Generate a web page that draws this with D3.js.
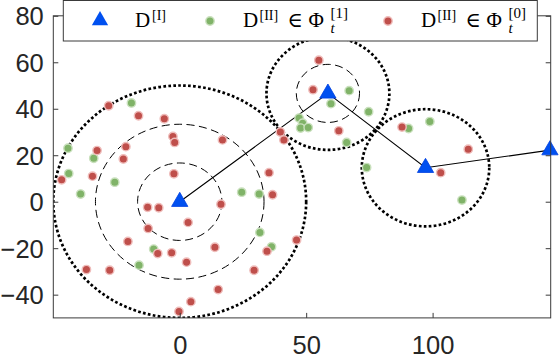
<!DOCTYPE html>
<html><head><meta charset="utf-8">
<script src="https://cdn.jsdelivr.net/npm/d3@7"></script>
<style>html,body{margin:0;padding:0;background:#fff;}svg{display:block;}</style>
</head><body><svg id="c" width="560" height="360"></svg>
<script>
// ---- data ----
const xTicks = [0, 50, 100];
const yTicks = [-40, -20, 0, 20, 40, 60, 80];
// D^[I] anchors (path)
const anchorX = [0, 58.6, 97.2, 146.4];
const anchorY = [0, 46.6, 14.6, 22.2];
// dotted coverage circles
const dotCx = [0, 58.6, 97.2];
const dotCy = [0, 46.6, 14.6];
const dotR  = [50, 24.3, 25.2];
// dashed inner circles
const dashCx = [0, 0, 58.6];
const dashCy = [0, 0, 46.6];
const dashR  = [16.67, 33.33, 12.5];
// D^[II] in Phi^[1] (green)
const greenX = [-19.1,-44.2,-34.0,-43.9,-25.7,-39.2,-10.3,-16.1,24.5,31.4,31.7,36.3,67.0,59.8,74.7,47.2,48.6,47.8,50.8,66.0,73.9,90.5,98.9,111.6];
const greenY = [42.5,23.0,18.7,12.1,8.4,3.3,-20.4,-27.3,4.1,3.3,-13.2,-19.4,47.8,42.2,38.7,36.0,33.8,31.7,31.9,25.5,14.7,31.5,34.5,0.7];
// D^[II] in Phi^[0] (red)
const redX = [-28.1,-16.3,-6.1,-2.7,-2.0,-32.7,-21.3,-22.3,-46.7,-34.5,-2.3,-12.7,-8.3,3.3,-12.5,-20.5,-8.7,-3.2,2.7,-36.9,-27.7,4.4,-0.3,16.3,13.9,15.2,29.4,34.5,46.2,36.7,35.3,16.9,39.8,41.2,55.0,52.7,62.9,87.9,114.1,103.2];
const redY = [41.3,37.0,35.7,28.1,25.5,22.0,23.7,18.4,9.4,11.0,12.0,-2.4,-2.6,-8.9,-11.5,-17.1,-22.3,-22.0,-26.0,-29.2,-29.5,-43.0,-47.2,-1.1,-19.6,-37.8,-29.5,-21.3,-16.5,3.0,12.5,26.6,30.0,26.6,60.9,48.2,30.5,32.1,22.6,12.5];

// ---- setup ----
const svg = d3.select('#c');
const L = 53.3, R = 550.7, T = 15.8, B = 317.9;
const x = d3.scaleLinear().domain([-50, 146.7]).range([L, R]);
const y = d3.scaleLinear().domain([-50, 80]).range([B, T]);
const axisCol = '#3a3a3a';
const sans = 'Liberation Sans, Arial, Helvetica, sans-serif';
const serif = 'Liberation Serif, DejaVu Serif, Times New Roman, serif';
const gFill = '#80b368', gEdge = '#c9e0bd', rFill = '#bf4f4b', rEdge = '#efbdbb';

svg.append('defs').append('clipPath').attr('id','clip')
  .append('rect').attr('x',L).attr('y',T).attr('width',R-L).attr('height',B-T);
const plot = svg.append('g').attr('clip-path','url(#clip)');

function ell(g, cx, cy, r) {
  return g.append('ellipse')
    .attr('cx', x(cx)).attr('cy', y(cy))
    .attr('rx', x(cx + r) - x(cx)).attr('ry', y(cy) - y(cy + r))
    .attr('fill','none').attr('stroke','#000');
}
dashR.forEach((r,i)=> ell(plot, dashCx[i], dashCy[i], r).attr('stroke-width',1).attr('stroke-dasharray','8,4.5'));
dotR.forEach((r,i)=> ell(plot, dotCx[i], dotCy[i], r).attr('stroke-width',2.7).attr('stroke-dasharray','2.7,2.3'));

// path
const pts = anchorX.map((v,i)=>[v, anchorY[i]]);
plot.append('path').attr('d', d3.line().x(d=>x(d[0])).y(d=>y(d[1]))(pts))
  .attr('fill','none').attr('stroke','#000').attr('stroke-width',1.1);

// dots
plot.append('g').selectAll('circle').data(greenX.map((v,i)=>[v, greenY[i]])).join('circle')
  .attr('cx', d=>x(d[0])).attr('cy', d=>y(d[1])).attr('r',4.2)
  .attr('fill',gFill).attr('stroke',gEdge).attr('stroke-width',1.4);
plot.append('g').selectAll('circle').data(redX.map((v,i)=>[v, redY[i]])).join('circle')
  .attr('cx', d=>x(d[0])).attr('cy', d=>y(d[1])).attr('r',4.2)
  .attr('fill',rFill).attr('stroke',rEdge).attr('stroke-width',1.4);

// triangles
const tri = d3.symbol().type(d3.symbolTriangle).size(115);
svg.append('g').selectAll('path').data(pts).join('path')
  .attr('d', tri).attr('transform', d=>`translate(${x(d[0])},${y(d[1])})`)
  .attr('fill','#0050f0').attr('stroke','#0040e0').attr('stroke-width',0.8);

// axes
const ax = svg.append('g').attr('font-family', sans);
const gl = ax.append('g').attr('transform',`translate(${L},0)`)
  .call(d3.axisLeft(y).tickValues(yTicks).tickSizeInner(-5).tickSizeOuter(0).tickPadding(9.5));
const gr = ax.append('g').attr('transform',`translate(${R},0)`)
  .call(d3.axisRight(y).tickValues(yTicks).tickSizeInner(-5).tickSizeOuter(0).tickFormat(''));
const gb = ax.append('g').attr('transform',`translate(0,${B})`)
  .call(d3.axisBottom(x).tickValues(xTicks).tickSizeInner(-5).tickSizeOuter(0).tickPadding(18.5));
const gt = ax.append('g').attr('transform',`translate(0,${T})`)
  .call(d3.axisTop(x).tickValues(xTicks).tickSizeInner(-5).tickSizeOuter(0).tickFormat(''));
[gl,gr,gb,gt].forEach(g=>{
  g.select('.domain').remove();
  g.selectAll('line').attr('stroke',axisCol).attr('stroke-width',1);
  g.selectAll('text').attr('fill','#262626').attr('font-size',25.5).attr('font-family',sans);
});
gl.selectAll('text').attr('dy','0.36em');
ax.append('rect').attr('x',L).attr('y',T).attr('width',R-L).attr('height',B-T)
  .attr('fill','none').attr('stroke',axisCol).attr('stroke-width',1);

// legend
const lg = svg.append('g');
lg.append('rect').attr('x',63.3).attr('y',0.5).attr('width',474).attr('height',40.5)
  .attr('fill','#fff').attr('stroke',axisCol).attr('stroke-width',1);
lg.append('path').attr('d', tri).attr('transform','translate(100,20.5)').attr('fill','#0050f0');
lg.append('circle').attr('cx',210).attr('cy',21).attr('r',4.2).attr('fill',gFill).attr('stroke',gEdge).attr('stroke-width',1.4);
lg.append('circle').attr('cx',388).attr('cy',21).attr('r',4.2).attr('fill',rFill).attr('stroke',rEdge).attr('stroke-width',1.4);

function txt(str, px, py, size, italic) {
  lg.append('text').attr('x',px).attr('y',py).attr('font-family',serif)
    .attr('font-size',size).attr('font-style', italic ? 'italic' : 'normal')
    .attr('fill','#000').text(str);
}
txt('D', 135, 26.5, 21);
txt('[I]', 152, 19.5, 14);
const items = [{x0:243, sup:'[1]'}, {x0:421, sup:'[0]'}];
items.forEach(it=>{
  txt('D', it.x0, 26.5, 21);
  txt('[II]', it.x0 + 16.5, 19.5, 14);
  txt('\u2208', it.x0 + 44.5, 26.5, 21);
  txt('\u03A6', it.x0 + 65.5, 26.5, 21);
  txt(it.sup, it.x0 + 87.5, 17.5, 15);
  txt('t', it.x0 + 87.5, 32.5, 15, true);
});
</script></body></html>
